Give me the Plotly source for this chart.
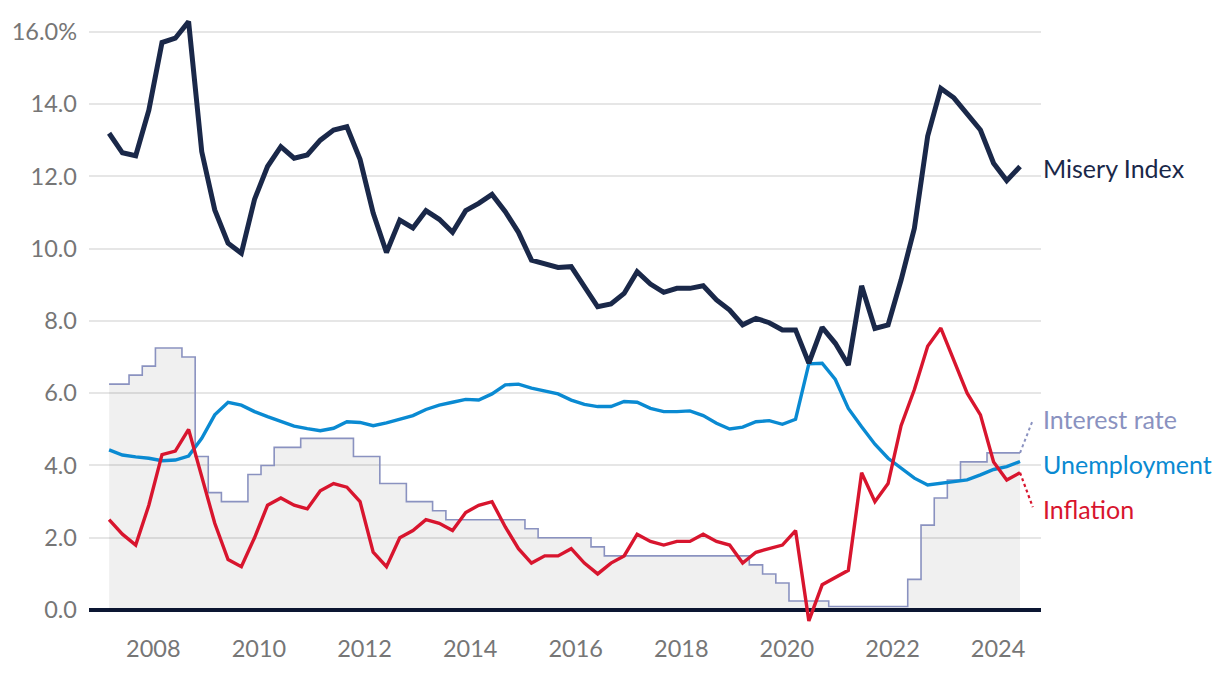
import plotly.graph_objects as go
import pandas as pd

# Quarterly observations, 2007 Q1 .. 2024 Q2 (plotted at the quarter's last month)
quarters = [f"{y}-{m:02d}-01" for y in range(2007, 2025) for m in (3, 6, 9, 12)][:70]

misery = [13.19, 12.65, 12.57, 13.83, 15.70, 15.82, 16.28, 12.68, 11.07, 10.15,
          9.87, 11.36, 12.27, 12.82, 12.50, 12.59, 13.00, 13.28, 13.37, 12.47,
          10.98, 9.89, 10.79, 10.57, 11.05, 10.81, 10.45, 11.05, 11.25, 11.50,
          11.02, 10.45, 9.68, 9.57, 9.48, 9.50, 8.97, 8.39, 8.47, 8.76,
          9.36, 9.02, 8.79, 8.90, 8.90, 8.97, 8.58, 8.30, 7.89, 8.07,
          7.95, 7.75, 7.75, 6.83, 7.82, 7.38, 6.78, 8.97, 7.79, 7.89,
          9.13, 10.56, 13.11, 14.43, 14.17, 13.71, 13.28, 12.36, 11.88, 12.27]

unemployment = [4.43, 4.29, 4.24, 4.20, 4.13, 4.15, 4.26, 4.75, 5.40, 5.75,
                5.67, 5.49, 5.35, 5.21, 5.09, 5.02, 4.96, 5.03, 5.21, 5.19,
                5.10, 5.18, 5.28, 5.38, 5.55, 5.67, 5.75, 5.83, 5.81, 5.98,
                6.23, 6.25, 6.14, 6.07, 5.98, 5.81, 5.69, 5.63, 5.63, 5.77,
                5.75, 5.58, 5.49, 5.49, 5.51, 5.38, 5.17, 5.01, 5.06, 5.21,
                5.24, 5.14, 5.28, 6.81, 6.83, 6.38, 5.58, 5.07, 4.59, 4.20,
                3.92, 3.65, 3.46, 3.51, 3.55, 3.60, 3.74, 3.89, 3.97, 4.11]

inflation = [2.5, 2.1, 1.8, 2.9, 4.3, 4.4, 5.0, 3.7, 2.4, 1.4,
             1.2, 2.0, 2.9, 3.1, 2.9, 2.8, 3.3, 3.5, 3.4, 3.0,
             1.6, 1.2, 2.0, 2.2, 2.5, 2.4, 2.2, 2.7, 2.9, 3.0,
             2.3, 1.7, 1.3, 1.5, 1.5, 1.7, 1.3, 1.0, 1.3, 1.5,
             2.1, 1.9, 1.8, 1.9, 1.9, 2.1, 1.9, 1.8, 1.3, 1.6,
             1.7, 1.8, 2.2, -0.3, 0.7, 0.9, 1.1, 3.8, 3.0, 3.5,
             5.1, 6.1, 7.3, 7.8, 6.9, 6.0, 5.4, 4.1, 3.6, 3.8]

interest_rate = [6.25, 6.25, 6.50, 6.75, 7.25, 7.25, 7.00, 4.25, 3.25, 3.00,
                 3.00, 3.75, 4.00, 4.50, 4.50, 4.75, 4.75, 4.75, 4.75, 4.25,
                 4.25, 3.50, 3.50, 3.00, 3.00, 2.75, 2.50, 2.50, 2.50, 2.50,
                 2.50, 2.50, 2.25, 2.00, 2.00, 2.00, 2.00, 1.75, 1.50, 1.50,
                 1.50, 1.50, 1.50, 1.50, 1.50, 1.50, 1.50, 1.50, 1.50, 1.25,
                 1.00, 0.75, 0.25, 0.25, 0.25, 0.10, 0.10, 0.10, 0.10, 0.10,
                 0.10, 0.85, 2.35, 3.10, 3.60, 4.10, 4.10, 4.35, 4.35, 4.35]

y_ticks = [0, 2, 4, 6, 8, 10, 12, 14, 16]
y_tick_text = ["0.0", "2.0", "4.0", "6.0", "8.0", "10.0", "12.0", "14.0", "16.0%"]
x_ticks = [f"{y}-01-01" for y in range(2008, 2025, 2)]

NAVY = "#1a2849"
BLUE = "#0a8ad2"
RED = "#d8152e"
RATE = "#8a92c0"
GREY_TXT = "#767676"
FONT = "Lato"

fig = go.Figure()
fig.add_trace(go.Scatter(x=quarters, y=interest_rate, mode="lines",
                         line=dict(color=RATE, width=1.6, shape="hvh"),
                         fill="tozeroy", fillcolor="rgba(0,0,0,0.06)",
                         name="Interest rate"))
fig.add_trace(go.Scatter(x=quarters, y=unemployment, mode="lines",
                         line=dict(color=BLUE, width=3.4), name="Unemployment"))
fig.add_trace(go.Scatter(x=quarters, y=inflation, mode="lines",
                         line=dict(color=RED, width=3.4), name="Inflation"))
fig.add_trace(go.Scatter(x=quarters, y=misery, mode="lines",
                         line=dict(color=NAVY, width=5), name="Misery Index"))

last = pd.Timestamp(quarters[-1])
x_conn = last + pd.Timedelta(days=88)
fig.add_shape(type="line", x0=last, y0=interest_rate[-1], x1=x_conn, y1=5.25,
              xref="x", yref="y", line=dict(color=RATE, width=2, dash="dot"))
fig.add_shape(type="line", x0=last, y0=inflation[-1], x1=x_conn, y1=2.85,
              xref="x", yref="y", line=dict(color=RED, width=2.2, dash="dot"))

labels = [("Misery Index", misery[-1] - 0.05, NAVY),
          ("Interest rate", 5.3, RATE),
          ("Unemployment", 4.05, BLUE),
          ("Inflation", 2.8, RED)]
for text, yv, col in labels:
    fig.add_annotation(text=text, x=1, xref="paper", xanchor="left",
                       y=yv, yref="y", yanchor="middle", showarrow=False,
                       font=dict(family=FONT, size=25, color=col))

# page body has an 8px margin, so the figure is sized/offset to compensate
fig.update_layout(
    width=1204, height=660,
    margin=dict(l=81, r=171, t=2, b=36),
    paper_bgcolor="white", plot_bgcolor="white",
    showlegend=False,
    font=dict(family=FONT, size=24, color=GREY_TXT),
)
fig.update_xaxes(type="date", range=["2006-10-13", "2024-10-24"],
                 tickvals=x_ticks, tickformat="%Y", showgrid=False,
                 zeroline=False, showline=False, ticks="",
                 tickfont=dict(family=FONT, size=23.5, color=GREY_TXT))
fig.update_yaxes(range=[-0.606, 16.6], tickvals=y_ticks, ticktext=y_tick_text,
                 showgrid=True, gridcolor="#e6e6e6", gridwidth=1.5,
                 zeroline=True, zerolinecolor="#0c1733", zerolinewidth=3.5,
                 showline=False, ticks="", ticklabelstandoff=11,
                 tickfont=dict(family=FONT, size=23.5, color=GREY_TXT))

fig.write_html("out.html")
